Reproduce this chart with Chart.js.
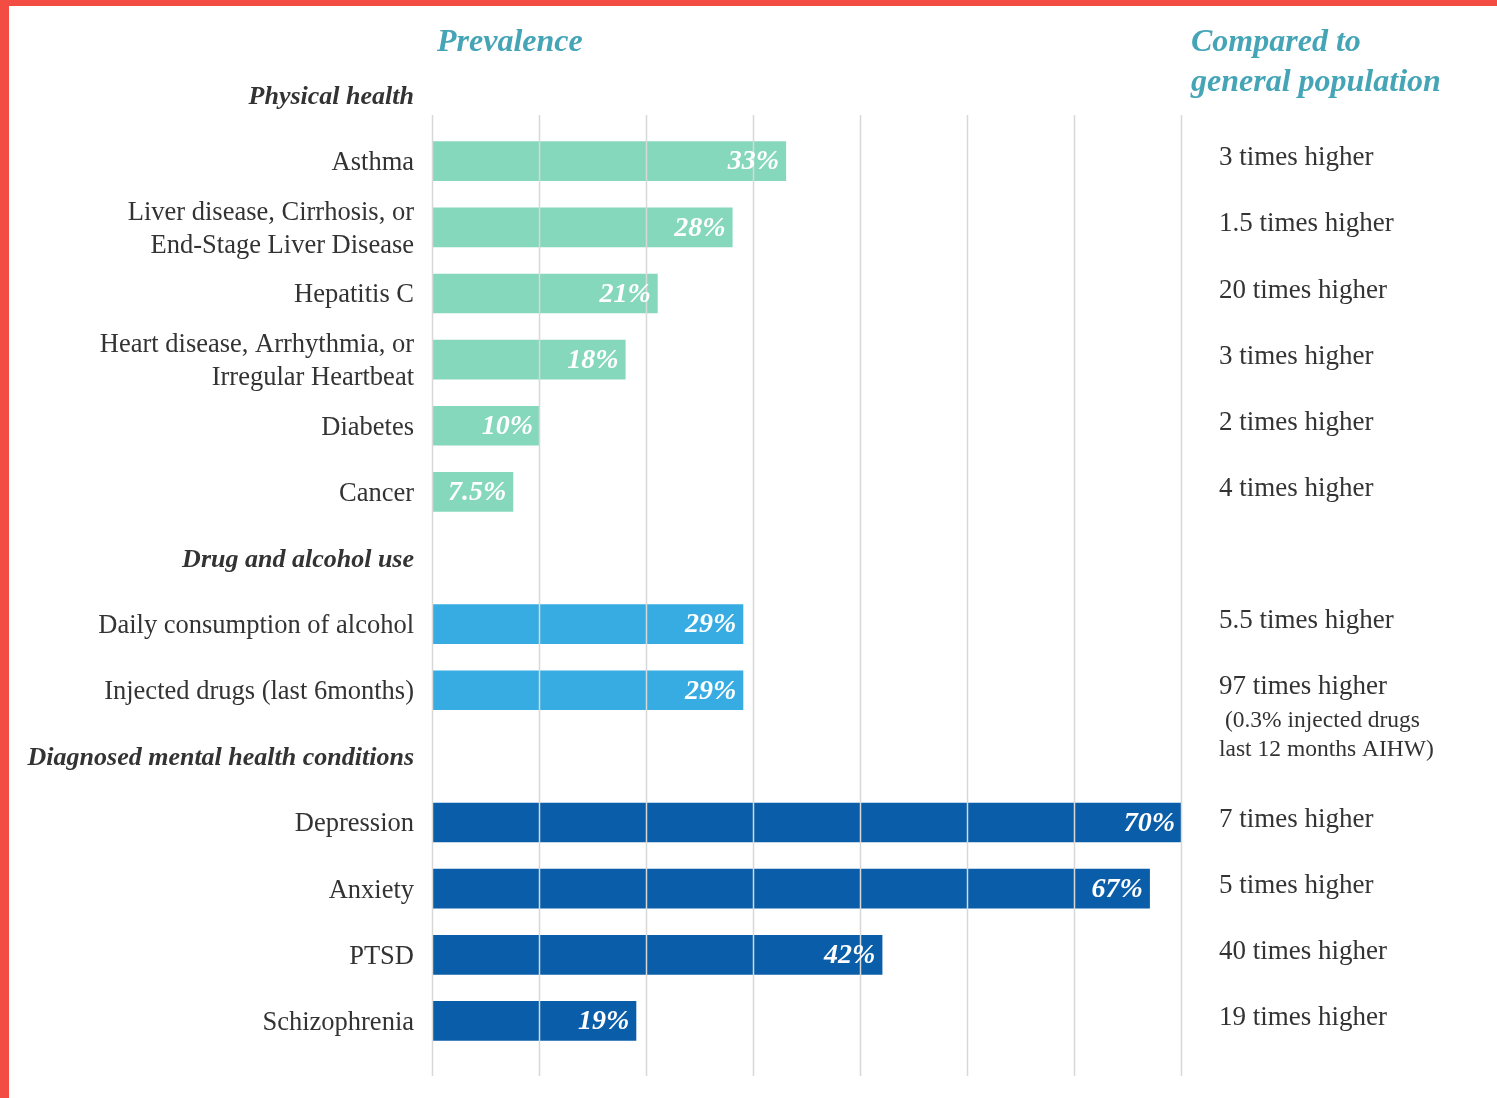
<!DOCTYPE html>
<html>
<head>
<meta charset="utf-8">
<script src="https://cdn.jsdelivr.net/npm/chart.js@4/dist/chart.umd.min.js"></script>
<style>
  html, body { margin: 0; padding: 0; background: #fff; }
  #wrap { position: absolute; left: 0; top: 0; width: 1488px; height: 1092px;
          border-left: 9px solid #F24C43; border-top: 6px solid #F24C43; background: #fff; }
  canvas { display: block; }
</style>
</head>
<body>
<div id="wrap"><canvas id="c" width="1488" height="1092"></canvas></div>
<script>
// ---- data ----
const categories = [
  'Physical health',
  'Asthma',
  ['Liver disease, Cirrhosis, or', 'End-Stage Liver Disease'],
  'Hepatitis C',
  ['Heart disease, Arrhythmia, or', 'Irregular Heartbeat'],
  'Diabetes',
  'Cancer',
  'Drug and alcohol use',
  'Daily consumption of alcohol',
  'Injected drugs (last 6months)',
  'Diagnosed mental health conditions',
  'Depression',
  'Anxiety',
  'PTSD',
  'Schizophrenia'
];
const headerRows = [0, 7, 10];
const prevalence = [null, 33, 28, 21, 18, 10, 7.5, null, 29, 29, null, 70, 67, 42, 19];
const valueLabels = ['', '33%', '28%', '21%', '18%', '10%', '7.5%', '', '29%', '29%', '', '70%', '67%', '42%', '19%'];
const groups = ['', 'physical', 'physical', 'physical', 'physical', 'physical', 'physical', '', 'drug', 'drug', '', 'mental', 'mental', 'mental', 'mental'];
const comparedText = ['', '3 times higher', '1.5 times higher', '20 times higher', '3 times higher', '2 times higher', '4 times higher', '',
  '5.5 times higher', '97 times higher', '', '7 times higher', '5 times higher', '40 times higher', '19 times higher'];
const comparedNotes = ['', '', '', '', '', '', '', '', '', [' (0.3% injected drugs', 'last 12 months AIHW)'], '', '', '', '', ''];
const xTicks = [0, 10, 20, 30, 40, 50, 60, 70];

const groupColors = { physical: '#86D8BC', drug: '#37ACE3', mental: '#0A5DA8' };
const SERIF = '"Liberation Serif", "DejaVu Serif", serif';
const TEXT = '#333333';
const TEAL = '#45A5B7';

const overlay = {
  id: 'overlay',
  afterDatasetsDraw(chart) {
    const ctx = chart.ctx;
    const x = chart.scales.x, y = chart.scales.y;
    const top = y.getPixelForValue(0) + 20;
    const bottom = y.getPixelForValue(categories.length - 1) + 55;
    ctx.save();
    // grid lines drawn on top of bars
    ctx.strokeStyle = '#d8d8d8';
    ctx.lineWidth = 1.5;
    xTicks.forEach(v => {
      const px = Math.round(x.getPixelForValue(v)) - 0.5;
      ctx.beginPath(); ctx.moveTo(px, top); ctx.lineTo(px, bottom); ctx.stroke();
    });
    // value labels inside bars
    const meta = chart.getDatasetMeta(0);
    ctx.fillStyle = '#ffffff';
    ctx.font = 'italic bold 28px ' + SERIF;
    ctx.textAlign = 'right';
    ctx.textBaseline = 'middle';
    meta.data.forEach((bar, i) => {
      if (prevalence[i] == null) return;
      ctx.fillText(valueLabels[i], bar.x - 7, bar.y + 1);
    });
    // right column
    const rx = chart.chartArea.right + 37;
    ctx.fillStyle = TEXT;
    ctx.textAlign = 'left';
    comparedText.forEach((t, i) => {
      if (!t) return;
      const py = y.getPixelForValue(i);
      ctx.font = '27px ' + SERIF;
      ctx.fillText(t, rx, py - 3);
      const n = comparedNotes[i];
      if (n && n.length) {
        ctx.font = '23.5px ' + SERIF;
        n.forEach((line, k) => ctx.fillText(line, rx, py + 31 + k * 29));
      }
    });
    // column titles
    ctx.fillStyle = TEAL;
    ctx.font = 'italic bold 32px ' + SERIF;
    ctx.fillText('Prevalence', chart.chartArea.left + 4, 37);
    ctx.fillText('Compared to', chart.chartArea.right + 9, 37);
    ctx.fillText('general population', chart.chartArea.right + 9, 77);
    ctx.restore();
  }
};

new Chart(document.getElementById('c'), {
  type: 'bar',
  data: {
    labels: categories,
    datasets: [{
      data: prevalence,
      backgroundColor: groups.map(g => groupColors[g] || 'transparent'),
      borderWidth: 0,
      categoryPercentage: 1,
      barPercentage: 0.6
    }]
  },
  options: {
    indexAxis: 'y',
    responsive: false,
    animation: false,
    devicePixelRatio: 1,
    layout: { padding: { top: 56, bottom: 44, left: 0, right: 315 } },
    plugins: { legend: { display: false }, tooltip: { enabled: false }, title: { display: false } },
    scales: {
      x: {
        min: 0, max: 70,
        display: false,
        grid: { display: false }
      },
      y: {
        grid: { display: false, drawTicks: false },
        border: { display: false },
        afterFit(scale) { scale.width = 424; },
        ticks: {
          padding: 19,
          labelOffset: 2,
          color: TEXT,
          autoSkip: false,
          font(ctx) {
            const hdr = headerRows.includes(ctx.index);
            return { family: SERIF, size: hdr ? 26 : 26.5, style: hdr ? 'italic' : 'normal', weight: hdr ? 'bold' : 'normal', lineHeight: 1.25 };
          }
        }
      }
    }
  },
  plugins: [overlay]
});
</script>
</body>
</html>
